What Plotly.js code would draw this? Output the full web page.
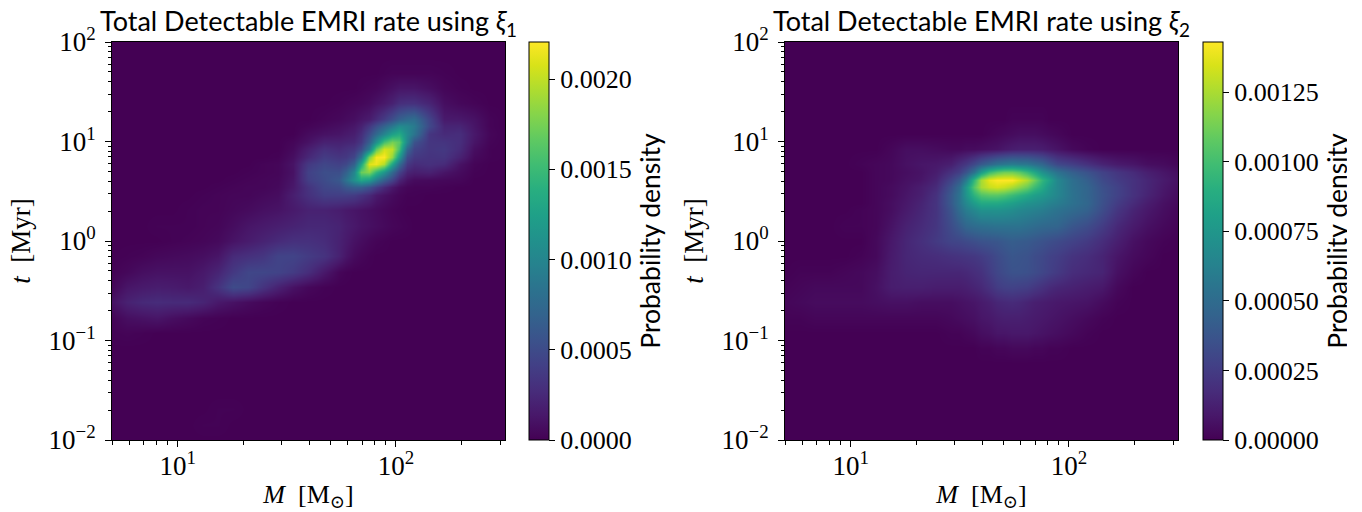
<!DOCTYPE html>
<html><head><meta charset="utf-8">
<script src="https://cdn.plot.ly/plotly-3.0.1.min.js"></script>
<style>html,body{margin:0;padding:0;background:#fff;overflow:hidden}#w{width:1347px;height:512px;overflow:hidden}#c{width:1362px;height:512px}</style>
</head><body><div id="w"><div id="c"></div></div>
<script>
const massNodesXi1=[5,5.86,6.88,8.07,9.46,11.1,13.0,15.3,17.9,21.0,24.6,28.9,33.9,39.7,46.6,54.7,59.2,64.1,69.4,75.2,81.4,88.2,95.5,103.4,112,121,142,167,196,229,269,316];
const timeNodesXi1=[0.01,0.01425,0.0203,0.0289,0.0412,0.0588,0.0838,0.119,0.170,0.242,0.346,0.492,0.702,1,1.425,2.03,2.89,3.45,4.12,4.92,5.88,7.02,8.38,10.0,11.9,14.2,17.0,24.2,34.6,49.2,70.2,100];
const massNodesXi2=[5,5.86,6.88,8.07,9.46,11.1,13.0,15.3,17.9,21.0,24.6,28.9,31.3,33.9,36.7,39.7,43.0,46.6,50.5,54.7,59.2,64.1,69.4,75.2,81.4,88.2,103.4,121,142,167,196,229,269,316];
const timeNodesXi2=[0.01,0.01425,0.0203,0.0289,0.0412,0.0588,0.0838,0.119,0.170,0.242,0.346,0.492,0.702,1,1.425,2.03,2.42,2.89,3.45,4.12,4.92,5.88,8.38,11.9,17.0,24.2,34.6,49.2,70.2,100];
// densities in units of 1e-5, bottom row first
const densityXi1=[
[0,0,0,0,0,0,0,0,0,0,0,0,0,0,0,0, 0,0,0,0,0,0,0,0,0,0, 0,0,0,0,0,0],
[0,0,0,0,0,0,1,1,0,0,0,0,0,0,0,0, 0,0,0,0,0,0,0,0,0,0, 0,0,0,0,0,0],
[0,0,0,0,0,0,0,1,1,0,0,0,0,0,0,0, 0,0,0,0,0,0,0,0,0,0, 0,0,0,0,0,0],
[0,0,0,0,0,0,0,0,0,0,0,0,0,0,0,0, 0,0,0,0,0,0,0,0,0,0, 0,0,0,0,0,0],
[0,0,0,0,0,0,0,0,0,0,0,0,0,0,0,0, 0,0,0,0,0,0,0,0,0,0, 0,0,0,0,0,0],
[0,0,0,0,0,0,0,0,0,0,0,0,0,0,0,0, 0,0,0,0,0,0,0,0,0,0, 0,0,0,0,0,0],
[0,0,0,0,0,0,0,0,0,0,0,0,0,0,0,0, 0,0,0,0,0,0,0,0,0,0, 0,0,0,0,0,0],
[1,2,1,0,0,0,0,0,0,0,0,0,0,0,0,0, 0,0,0,0,0,0,0,0,0,0, 0,0,0,0,0,0],
[2,8,10,12,8,5,2,1,0,0,0,0,0,0,0,0, 0,0,0,0,0,0,0,0,0,0, 0,0,0,0,0,0],
[10,20,25,27,26,26,22,14,10,6,3,1,0,0,0,0, 0,0,0,0,0,0,0,0,0,0, 0,0,0,0,0,0],
[3,12,15,17,16,14,18,32,50,46,32,20,10,4,1,0, 0,0,0,0,0,0,0,0,0,0, 0,0,0,0,0,0],
[1,4,8,10,10,10,14,22,36,46,46,44,38,28,14,3, 1,0,0,0,0,0,0,0,0,0, 0,0,0,0,0,0],
[0,1,2,4,5,6,8,12,26,30,34,44,44,38,32,20, 12,6,3,1,0,0,0,0,0,0, 0,0,0,0,0,0],
[0,0,0,0,1,2,3,5,11,16,21,26,30,30,27,20, 15,10,7,4,2,1,0,0,0,0, 0,0,0,0,0,0],
[0,0,0,1,1,1,2,3,7,12,15,18,21,24,24,21, 17,14,11,9,7,5,3,2,1,0, 0,0,0,0,0,0],
[0,0,0,0,0,1,2,2,4,6,9,11,15,20,20,17, 14,12,10,8,6,4,2,1,0,0, 0,0,0,0,0,0],
[0,0,0,0,0,0,1,2,3,3,5,7,18,30,40,40, 40,38,32,25,15,10,6,3,1,1, 0,0,0,0,0,0],
[0,0,0,0,0,0,0,1,2,3,3,5,14,32,46,50, 60,66,66,55,40,26,14,7,3,2, 2,1,0,0,0,0],
[0,0,0,0,0,0,0,0,1,2,3,4,12,40,50,60, 84,110,130,120,92,65,44,22,10,6, 5,4,3,0,0,0],
[0,0,0,0,0,0,0,0,0,1,2,3,10,42,52,52, 68,100,170,180,145,115,76,44,22,18, 20,12,6,1,0,0],
[0,0,0,0,0,0,0,0,0,0,2,3,11,36,46,42, 48,68,130,210,215,195,130,78,36,27, 30,26,10,2,0,0],
[0,0,0,0,0,0,0,0,0,0,0,1,8,24,38,34, 36,46,84,175,218,220,185,120,50,36, 32,33,20,5,1,0],
[0,0,0,0,0,0,0,0,0,0,0,0,5,18,30,26, 30,34,50,92,165,205,200,155,72,44, 34,36,26,8,1,0],
[0,0,0,0,0,0,0,0,0,0,0,0,3,10,20,20, 22,24,35,66,110,155,175,165,100,56, 34,33,28,12,2,0],
[0,0,0,0,0,0,0,0,0,0,0,0,0,6,10,12, 15,18,28,50,75,100,125,135,105,85, 34,26,28,14,3,0],
[0,0,0,0,0,0,0,0,0,0,0,0,0,2,5,8, 10,13,20,35,52,70,88,105,100,90, 48,22,22,12,2,0],
[0,0,0,0,0,0,0,0,0,0,0,0,0,0,2,4, 6,8,12,16,26,38,52,66,75,78, 45,15,14,10,2,0],
[0,0,0,0,0,0,0,0,0,0,0,0,0,0,0,1, 2,3,4,6,10,14,20,28,30,30, 22,8,4,2,0,0],
[0,0,0,0,0,0,0,0,0,0,0,0,0,0,0,0, 0,0,1,2,3,6,9,12,12,12, 8,3,1,0,0,0],
[0,0,0,0,0,0,0,0,0,0,0,0,0,0,0,0, 0,0,0,0,0,1,2,2,2,2, 2,1,0,0,0,0],
[0,0,0,0,0,0,0,0,0,0,0,0,0,0,0,0, 0,0,0,0,0,0,0,0,0,0, 0,0,0,0,0,0],
[0,0,0,0,0,0,0,0,0,0,0,0,0,0,0,0, 0,0,0,0,0,0,0,0,0,0, 0,0,0,0,0,0]];
const densityXi2=[
[0,0,0,0,0,0,0,0,0,0,0,0, 0,0,0,0,0,0,0,0,0,0,0,0,0,0, 0,0,0,0,0,0,0,0],
[0,0,0,0,0,0,0,0,0,0,0,0, 0,0,0,0,0,0,0,0,0,0,0,0,0,0, 0,0,0,0,0,0,0,0],
[0,0,0,0,0,0,0,0,0,0,0,0, 0,0,0,0,0,0,0,0,0,0,0,0,0,0, 0,0,0,0,0,0,0,0],
[0,0,0,0,0,0,0,0,0,0,0,0, 0,0,0,0,0,0,0,0,0,0,0,0,0,0, 0,0,0,0,0,0,0,0],
[0,0,0,0,0,0,0,0,0,0,0,0, 0,0,0,0,0,0,0,0,0,0,0,0,0,0, 0,0,0,0,0,0,0,0],
[0,0,0,0,0,0,0,0,0,0,0,0, 0,0,0,0,0,0,0,0,0,0,0,0,0,0, 0,0,0,0,0,0,0,0],
[0,0,0,0,0,0,0,0,0,0,0,0, 0,0,0,1,1,2,2,3,3,3,2,2,1,1, 0,0,0,0,0,0,0,0],
[0,0,0,0,0,0,0,0,0,0,0,1, 1,2,3,5,6,8,8,9,9,9,8,7,6,5, 3,1,0,0,0,0,0,0],
[1,1,2,2,2,2,2,2,2,2,2,3, 4,5,6,8,9,11,12,12,12,11,10,9,8,7, 5,3,1,0,0,0,0,0],
[2,3,4,4,4,4,5,6,6,5,5,5, 6,7,8,10,12,15,16,17,16,14,12,11,10,9, 8,7,4,1,0,0,0,0],
[1,2,3,3,3,3,6,11,12,12,11,11, 11,12,14,16,20,25,27,28,27,26,23,20,17,15, 13,11,9,3,0,0,0,0],
[0,1,1,1,2,3,5,11,14,15,15,15, 15,16,18,20,25,30,33,36,36,35,33,30,27,24, 18,16,14,6,2,0,0,0],
[0,0,0,0,0,1,3,10,15,17,18,20, 21,22,23,25,28,32,35,38,37,36,33,31,28,26, 21,18,14,8,4,2,0,0],
[0,0,0,0,0,0,3,9,15,19,24,29, 30,32,34,36,37,38,40,42,41,40,38,36,34,32, 28,24,18,12,6,3,1,0],
[0,0,0,0,1,1,2,7,13,17,22,33, 40,47,50,52,53,54,54,54,54,52,50,48,47,46, 38,33,25,16,10,6,3,1],
[0,0,0,0,0,1,2,5,10,15,21,37, 50,60,66,72,72,72,71,69,66,64,62,60,57,54, 49,44,33,22,14,9,5,2],
[0,0,0,0,0,0,2,5,9,14,21,40, 54,67,78,86,86,86,83,80,76,72,70,67,63,60, 53,47,35,25,17,11,6,3],
[0,0,0,0,0,0,2,4,8,12,20,40, 54,74,92,103,106,106,103,97,92,86,80,76,71,65, 54,46,36,28,20,14,8,4],
[0,0,0,0,0,0,2,4,7,11,17,36, 50,76,105,124,131,134,131,125,118,110,98,87,75,66, 53,46,35,28,20,15,9,5],
[0,0,0,0,0,0,2,3,6,8,14,29, 40,60,95,124,138,143,143,143,135,126,112,94,82,66, 52,43,32,25,20,15,10,6],
[0,0,0,0,0,0,2,3,5,7,11,20, 26,37,54,78,97,107,112,112,107,97,86,72,63,54, 43,36,28,22,17,12,8,5],
[0,0,0,0,0,1,2,3,6,8,9,12, 18,23,31,40,47,54,57,60,58,57,52,47,39,31, 26,20,14,10,8,5,4,2],
[0,0,0,0,0,0,0,2,5,5,4,3, 3,4,4,5,6,7,9,11,12,12,12,11,9,7, 3,1,0,0,0,0,0,0],
[0,0,0,0,0,0,0,0,0,0,0,0, 0,0,0,0,1,2,3,4,5,5,5,4,3,2, 0,0,0,0,0,0,0,0],
[0,0,0,0,0,0,0,0,0,0,0,0, 0,0,0,0,0,0,0,1,1,1,1,1,0,0, 0,0,0,0,0,0,0,0],
[0,0,0,0,0,0,0,0,0,0,0,0, 0,0,0,0,0,0,0,0,0,0,0,0,0,0, 0,0,0,0,0,0,0,0],
[0,0,0,0,0,0,0,0,0,0,0,0, 0,0,0,0,0,0,0,0,0,0,0,0,0,0, 0,0,0,0,0,0,0,0],
[0,0,0,0,0,0,0,0,0,0,0,0, 0,0,0,0,0,0,0,0,0,0,0,0,0,0, 0,0,0,0,0,0,0,0],
[0,0,0,0,0,0,0,0,0,0,0,0, 0,0,0,0,0,0,0,0,0,0,0,0,0,0, 0,0,0,0,0,0,0,0],
[0,0,0,0,0,0,0,0,0,0,0,0, 0,0,0,0,0,0,0,0,0,0,0,0,0,0, 0,0,0,0,0,0,0,0]];
const xTickVals=[10,100], xTickText=['10<sup>1</sup>','10<sup>2</sup>'];
const yTickVals=[0.01,0.1,1,10,100], yTickText=['10<sup>\u22122</sup>','10<sup>\u22121</sup>','10<sup>0</sup>','10<sup>1</sup>','10<sup>2</sup>'];
const xMinor=[5,6,7,8,9,20,30,40,50,60,70,80,90,200,300];
const yMinor=[0.02,0.03,0.04,0.05,0.06,0.07,0.08,0.09,0.2,0.3,0.4,0.5,0.6,0.7,0.8,0.9,2,3,4,5,6,7,8,9,20,30,40,50,60,70,80,90];
const W=1362,H=512;
const serif='"Liberation Serif","DejaVu Serif",serif', sans='Lato,"Open Sans",sans-serif';
const scale=z=>z.map(r=>r.map(v=>v*1e-5));
function hm(mass,time,z,xa,ya,zmax,left,dtick,fmt){
  return {type:'heatmap',x:mass,y:time,z:scale(z),xaxis:xa,yaxis:ya,zmin:0,zmax:zmax,colorscale:'Viridis',zsmooth:'best',
    colorbar:{x:left/W,xanchor:'left',xpad:0,ypad:0,y:1-42/H,yanchor:'top',lenmode:'fraction',len:398/H,thicknessmode:'pixels',thickness:20,
      outlinecolor:'#000',outlinewidth:1,ticks:'outside',ticklen:6,tickcolor:'#000',tick0:0,dtick:dtick,tickformat:fmt,
      tickfont:{family:serif,size:26,color:'#000'},title:{text:'Probability density',side:'right',font:{family:sans,size:26.5,color:'#000'}}}};
}
function xax(l,r,anchor){return {domain:[l/W,r/W],type:'log',range:[Math.log10(5),2.5],anchor:anchor,tickmode:'array',tickvals:xTickVals,ticktext:xTickText,ticks:'outside',ticklen:6,ticklabelstandoff:-4,tickcolor:'#000',
  showgrid:false,zeroline:false,showline:true,mirror:true,linecolor:'#000',linewidth:1,tickfont:{family:serif,size:27,color:'#000'},
  minor:{tickmode:'array',tickvals:xMinor,ticks:'outside',ticklen:3.5,tickcolor:'#000',showgrid:false},
  title:{text:'<i>M</i>  [M<sub>\u2299</sub>]',standoff:12,font:{family:serif,size:26,color:'#000'}}};}
function yax(anchor){return {domain:[1-440/H,1-42/H],type:'log',range:[-2,2],anchor:anchor,tickmode:'array',tickvals:yTickVals,ticktext:yTickText,ticks:'outside',ticklen:6,ticklabelstandoff:4,tickcolor:'#000',
  showgrid:false,zeroline:false,showline:true,mirror:true,linecolor:'#000',linewidth:1,tickfont:{family:serif,size:27,color:'#000'},
  minor:{tickmode:'array',tickvals:yMinor,ticks:'outside',ticklen:3.5,tickcolor:'#000',showgrid:false},
  title:{text:'<i>t</i>  [Myr]',standoff:10,font:{family:serif,size:27,color:'#000'}}};}
function ttl(c,k){return {xref:'paper',yref:'paper',x:c/W,y:1-43/H,xanchor:'center',yanchor:'bottom',showarrow:false,
  text:'Total Detectable EMRI rate using <i>\u03BE</i><sub>'+k+'</sub>',font:{family:sans,size:27,color:'#000'}};}
Plotly.newPlot('c',[
  hm(massNodesXi1,timeNodesXi1,densityXi1,'x','y',0.002205,529,0.0005,'.4f'),
  hm(massNodesXi2,timeNodesXi2,densityXi2,'x2','y2',0.00143,1203,0.00025,'.5f')
],{width:W,height:H,margin:{l:0,r:0,t:0,b:0,autoexpand:false},paper_bgcolor:'#fff',plot_bgcolor:'#fff',
  xaxis:xax(112,505,'y'),yaxis:yax('x'),xaxis2:xax(785,1178,'y2'),yaxis2:yax('x2'),
  annotations:[ttl(308,1),ttl(981,2)]},{displayModeBar:false,staticPlot:true});
</script></body></html>
